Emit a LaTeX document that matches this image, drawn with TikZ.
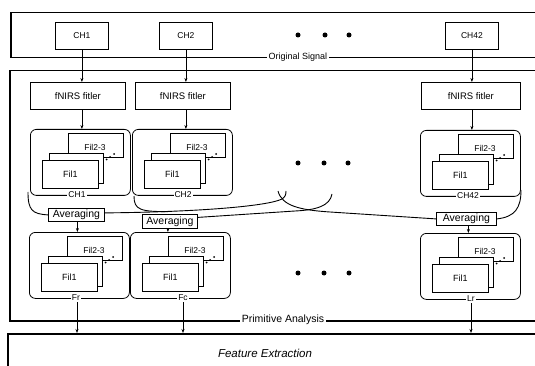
\documentclass[tikz,border=0pt]{standalone}
\usepackage{fontspec}
\setmainfont{Liberation Sans}
\usetikzlibrary{arrows.meta}
\tikzset{
  box/.style={draw, line width=0.8pt, fill=white, inner sep=0pt, anchor=north west},
  outerbox/.style={draw, line width=1.5pt, inner sep=0pt, anchor=north west},
  grp/.style={box, rounded corners=6pt, minimum width=100pt, minimum height=66pt},
  lbl/.style={fill=white, inner sep=1pt, font=\fontsize{8.5}{9}\selectfont},
  biglbl/.style={fill=white, inner sep=2pt, font=\fontsize{10.5}{12}\selectfont},
  filtxt/.style={font=\fontsize{8.5}{10}\selectfont, inner sep=0pt},
  chbox/.style={box, minimum width=53pt, minimum height=27pt, font=\fontsize{8.5}{10}\selectfont},
  fnbox/.style={box, minimum height=27pt, font=\fontsize{9.5}{11}\selectfont},
  avbox/.style={box, minimum height=13pt, font=\fontsize{10.5}{11}\selectfont},
  arr/.style={-{Stealth[length=4pt,width=3pt]}, line width=0.6pt},
  conn/.style={line width=0.9pt},
  bigdot/.style={circle, fill=black, inner sep=0pt, minimum size=5pt},
}
\newcommand\stackgrp[5]{%
  \begin{scope}[shift={(#2,#3)}]
    \node[grp] (#1) at (0,0) {};
    \node[box, minimum width=55pt, minimum height=24pt] (#1b) at (38,4) {};
    \node[filtxt] (#1bt) at (65,18) {Fil2-3};
    \node[box, minimum width=54pt, minimum height=30pt] (#1m) at (19,24) {};
    \node[box, minimum width=56pt, minimum height=28pt, font=\fontsize{9}{10}\selectfont] (#1f) at (12,31) {Fil1};
    \fill (76.5,30.5) circle (1pt) (80,28) circle (1pt) (84,25) circle (1pt);
    \node[lbl] (#1l) at (#5,66) {#4};
  \end{scope}}
\begin{document}
\begin{tikzpicture}[x=1pt,y=-1pt]
  \useasboundingbox (0,0) rectangle (535,366);
  \clip (0,0) rectangle (535,366);
  % outer boxes
  \node[outerbox, minimum width=540pt, minimum height=45pt] (topbox) at (10,12) {};
  \node[outerbox, minimum width=540pt, minimum height=250pt] (primbox) at (9,70) {};
  \node[outerbox, minimum width=540pt, minimum height=60pt] (featbox) at (7,333) {};
  \node[fill=white, inner sep=1.5pt, font=\fontsize{9}{10}\selectfont] (origlbl) at (298,57.5) {Original Signal};
  \node[biglbl] (primlbl) at (283,320) {Primitive Analysis};
  \node[font=\fontsize{11.5}{13}\selectfont\itshape] (featlbl) at (265,353) {Feature Extraction};
  % channels
  \node[chbox] (c1) at (55,22) {CH1};
  \node[chbox] (c2) at (159,22) {CH2};
  \node[chbox] (c42) at (445,22) {CH42};
  \node[bigdot] (d1) at (298,35) {};
  \node[bigdot] (d2) at (325,35) {};
  \node[bigdot] (d3) at (349,35) {};
  % filters
  \node[fnbox, minimum width=95pt] (f1) at (30,82) {fNIRS fitler};
  \node[fnbox, minimum width=95pt] (f2) at (135,82) {fNIRS fitler};
  \node[fnbox, minimum width=99pt] (f42) at (421,82) {fNIRS fitler};
  % upper groups
  \stackgrp{g1}{30}{129}{CH1}{47}
  \stackgrp{g2}{132}{129}{CH2}{51}
  \stackgrp{g42}{420}{130}{CH42}{48}
  \node[bigdot] (e1) at (298,163) {};
  \node[bigdot] (e2) at (324,163) {};
  \node[bigdot] (e3) at (348,163) {};
  % averaging
  \node[avbox, minimum width=56pt] (a1) at (48,208) {Averaging};
  \node[avbox, minimum width=55pt, minimum height=14pt] (a2) at (142,214) {Averaging};
  \node[avbox, minimum width=60pt] (a42) at (436,212) {Averaging};
  % lower groups
  \stackgrp{h1}{29}{232}{Fr}{47}
  \stackgrp{h2}{130}{232}{Fc}{53}
  \stackgrp{h42}{420}{233}{Lr}{51}
  \node[bigdot] (k1) at (298,273) {};
  \node[bigdot] (k2) at (324,273) {};
  \node[bigdot] (k3) at (349,273) {};
  % arrows top
  \draw[arr] (c1.south) -- (c1.south |- f1.north);
  \draw[arr] (c2.south) -- (c2.south |- f2.north);
  \draw[arr] (c42.south) -- (c42.south |- f42.north);
  \draw[arr] (c1.south |- f1.south) -- (c1.south |- g1.north);
  \draw[arr] (c2.south |- f2.south) -- (c2.south |- g2.north);
  \draw[arr] (c42.south |- f42.south) -- (c42.south |- g42.north);
  % braces and crossing connectors
  \coordinate (b1s) at (28,192);
  \coordinate (b2s) at (134,196);
  \coordinate (b42s) at (521,190);
  \coordinate (cx1) at (286,191);
  \coordinate (cx2) at (278,191);
  \coordinate (cx3) at (332,194);
  \draw[conn] (b1s) .. controls (28,210) and (32,214) .. (a1.west);
  \draw[conn] ([yshift=2pt]a1.east) .. controls (200,212) and (268,206) .. (282,199) .. controls (285,197) and (286,195) .. (cx1);
  \draw[conn] (b2s) .. controls (134,210) and (140,212) .. (172,211.5);
  \draw[conn] (cx2) .. controls (282,206) and (300,210) .. (330,212) -- (a42.west);
  \draw[conn] (cx3) .. controls (330,206) and (316,210) .. (295,211) -- ([yshift=4pt]a2.east);
  \draw[conn] (b42s) .. controls (521,208) and (515,217) .. (a42.east);
  % averaging to lower groups
  \draw[arr] ([xshift=1pt]a1.south) -- ([xshift=1pt]a1.south |- h1.north);
  \draw[arr] ([xshift=-2pt]a2.south) -- ([xshift=-2pt]a2.south |- h2.north);
  \draw[arr] ([xshift=2pt]a42.south) -- ([xshift=2pt]a42.south |- h42.north);
  % lower groups to feature extraction
  \draw[arr] ([xshift=1pt]h1l.south) -- ([xshift=1pt]h1l.south |- featbox.north);
  \draw[arr] (h2l.south) -- (h2l.south |- featbox.north);
  \draw[arr] (h42l.south) -- (h42l.south |- featbox.north);
\end{tikzpicture}
\end{document}
